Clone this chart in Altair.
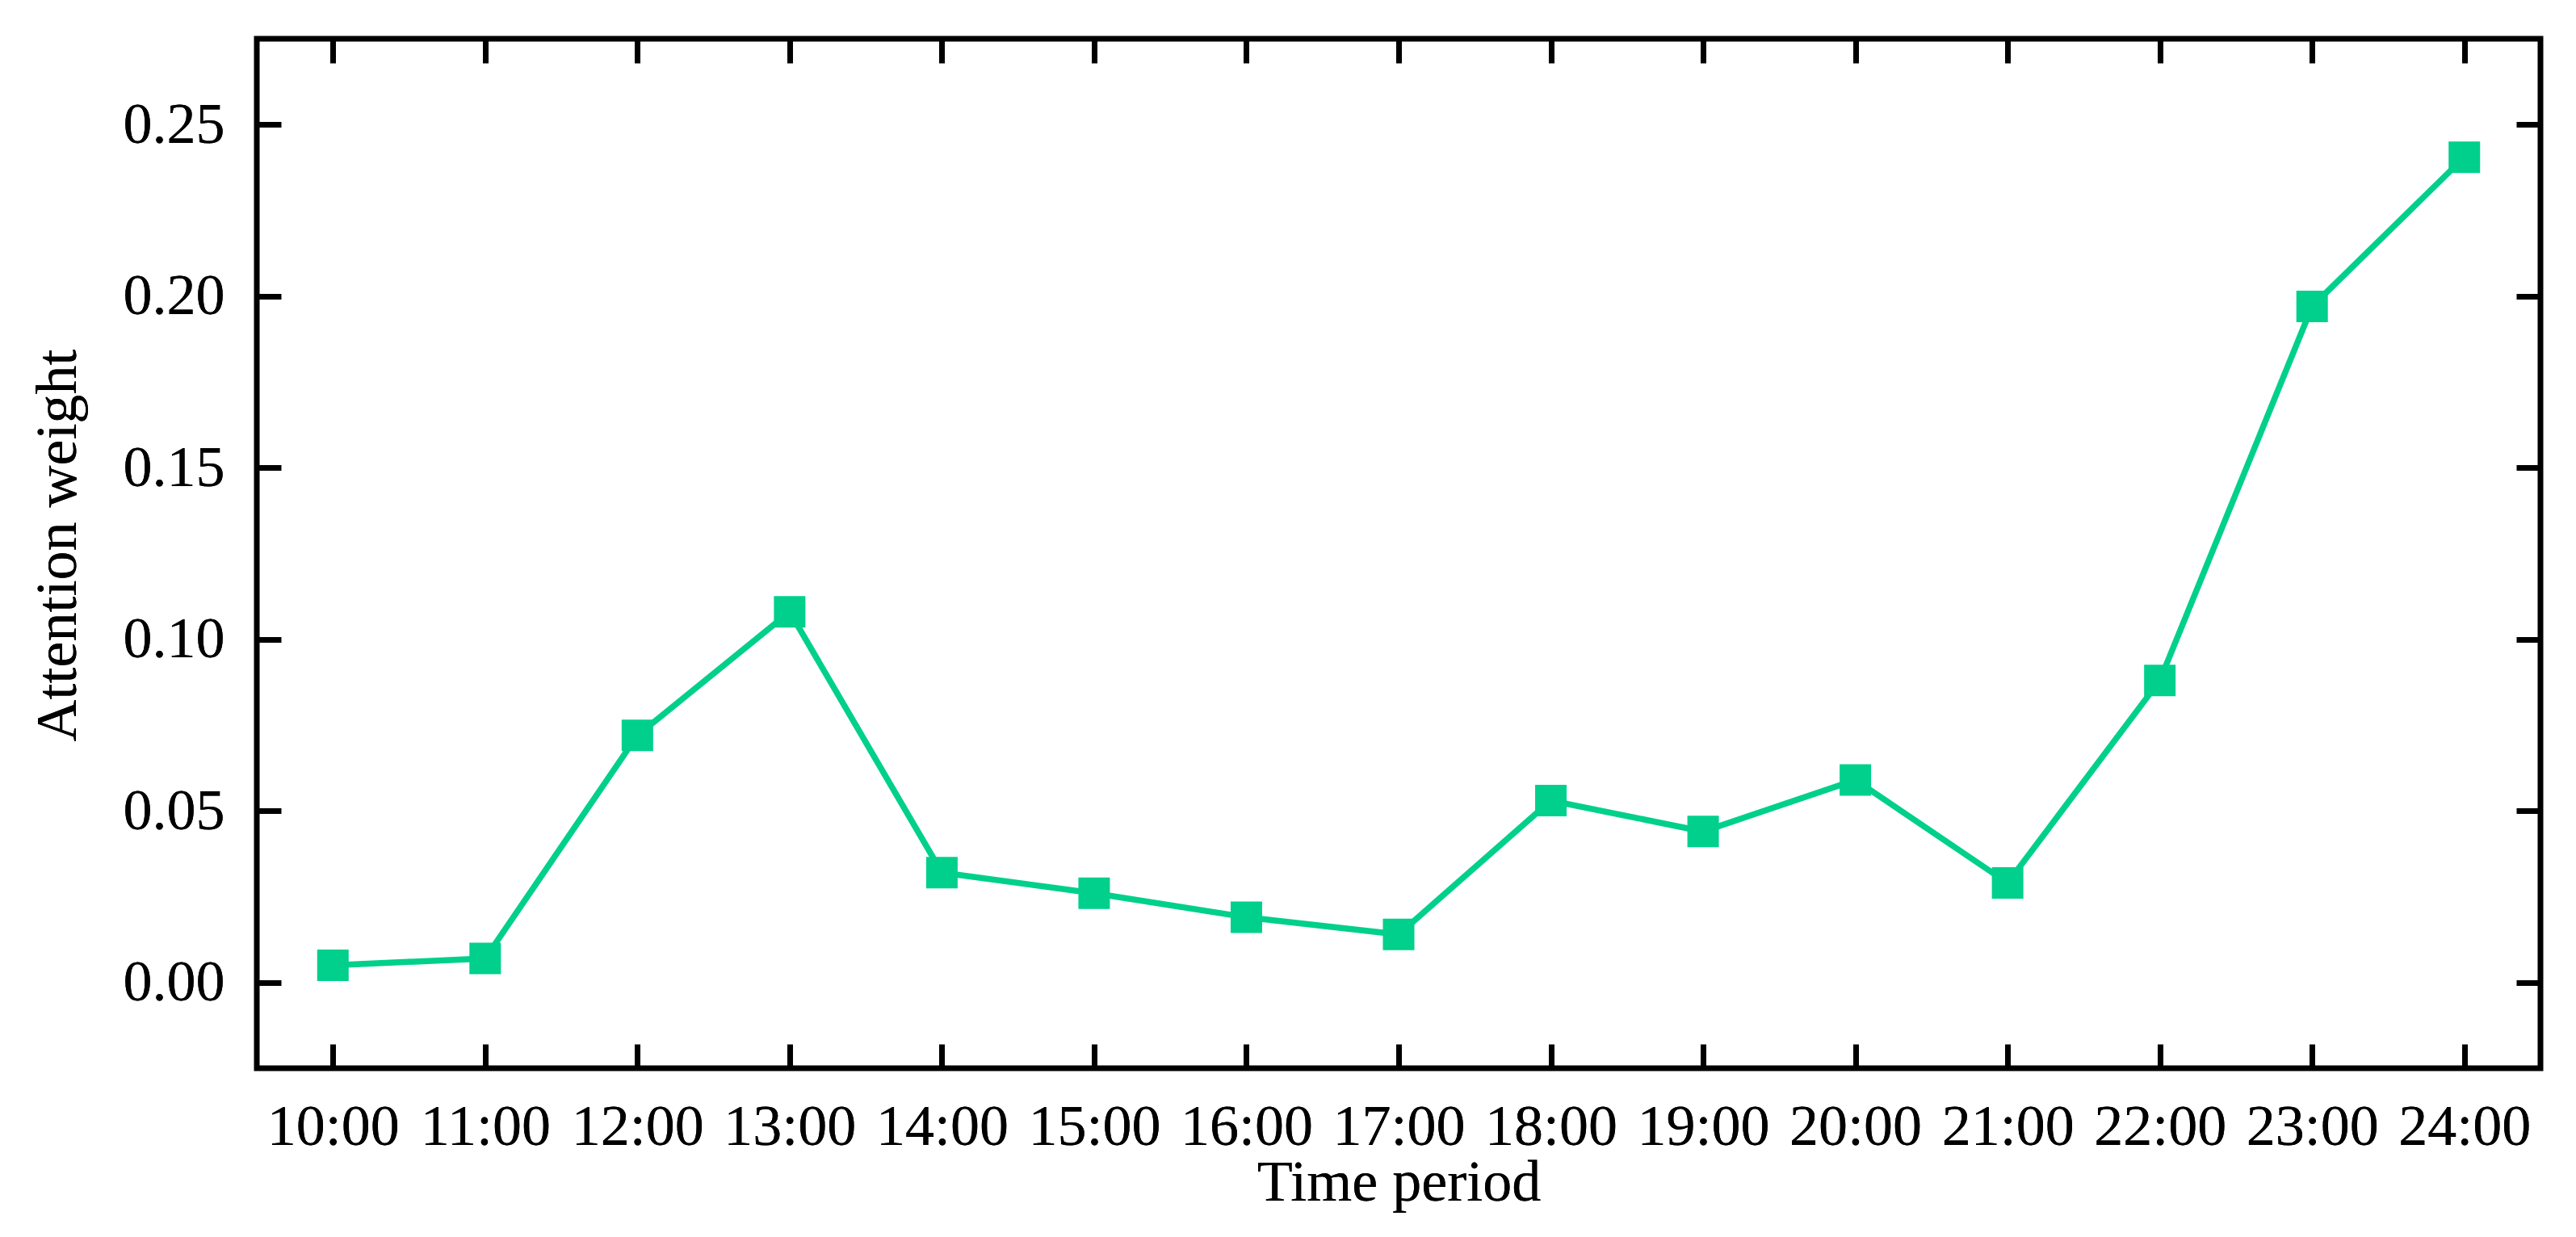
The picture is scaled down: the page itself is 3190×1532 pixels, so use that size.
import altair as alt
import pandas as pd

times = ["10:00", "11:00", "12:00", "13:00", "14:00", "15:00", "16:00", "17:00",
         "18:00", "19:00", "20:00", "21:00", "22:00", "23:00", "24:00"]
weights = [0.005, 0.007, 0.072, 0.108, 0.032, 0.026, 0.019, 0.014,
           0.053, 0.044, 0.059, 0.029, 0.088, 0.197, 0.2405]
y_ticks = [0.0, 0.05, 0.10, 0.15, 0.20, 0.25]

df = pd.DataFrame({"time": times, "weight": weights})

W, H = 2828, 1275
COLOR = "#00D08C"
FONT = "Liberation Serif"
FS = 72

xscale = alt.Scale(type="point", padding=0.5)
yscale = alt.Scale(domain=[-0.025, 0.275], nice=False, zero=False)

base = alt.Chart(df)

x_main = alt.X(
    "time:O", sort=times, scale=xscale,
    axis=alt.Axis(orient="bottom", title="Time period", ticks=False, tickSize=0,
                  domain=False, grid=False, labelPadding=37, labelAngle=0,
                  labelFont=FONT, labelFontSize=FS, labelColor="black",
                  titleFont=FONT, titleFontSize=FS, titleFontWeight="normal",
                  titleColor="black", titleY=163, titleBaseline="alphabetic"))
y_main = alt.Y(
    "weight:Q", scale=yscale,
    axis=alt.Axis(orient="left", values=y_ticks, format=".2f", title="Attention weight",
                  ticks=False, tickSize=0, domain=False, grid=False, labelPadding=40,
                  labelFont=FONT, labelFontSize=FS, labelColor="black",
                  titleFont=FONT, titleFontSize=FS, titleFontWeight="normal",
                  titleColor="black", titleX=-225, titleY=627,
                  titleBaseline="alphabetic", titleAngle=270))

line = base.mark_line(color=COLOR, strokeWidth=7.5).encode(x=x_main, y=y_main)
pts = base.mark_point(shape="square", filled=True, size=1521, opacity=1,
                      color=COLOR, strokeWidth=0).encode(x=x_main, y=y_main)


def tick_axis(orient, offset, values=None):
    kw = dict(orient=orient, offset=offset, labels=False, title=None, domain=False,
              grid=False, ticks=True, tickSize=30, tickWidth=7, tickColor="black")
    if values is not None:
        kw["values"] = values
    return alt.Axis(**kw)


t1 = base.mark_point(opacity=0).encode(
    x=alt.X("time:O", sort=times, scale=xscale, axis=tick_axis("top", -H)),
    y=alt.Y("weight:Q", scale=yscale, axis=tick_axis("right", -W, y_ticks)))
t2 = base.mark_point(opacity=0).encode(
    x=alt.X("time:O", sort=times, scale=xscale, axis=tick_axis("bottom", -H)),
    y=alt.Y("weight:Q", scale=yscale, axis=tick_axis("left", -W, y_ticks)))

chart = alt.layer(line, pts, t1, t2).resolve_axis(
    x="independent", y="independent"
).properties(
    width=W, height=H,
    autosize=alt.AutoSizeParams(type="none"),
    padding={"left": 310, "top": 40, "right": 36, "bottom": 200},
    background="white",
).configure_view(stroke="black", strokeWidth=7)

chart.save("out.html", embed_options={"renderer": "svg", "actions": False})
